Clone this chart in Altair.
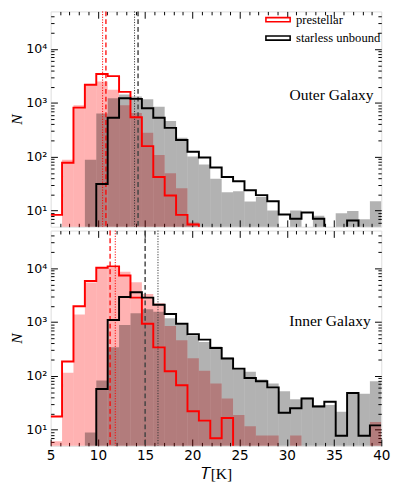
import altair as alt
import pandas as pd

# ---------------- data ----------------
T_MIN, T_MAX, N_BINS = 5.0, 40.0, 29
series_names = ["prestellar", "starless unbound"]
panel_names = ["Outer Galaxy", "Inner Galaxy"]

# Outer Galaxy
outer_pre_fill = [0, 88, 905, 2200, 2500, 1750, 905, 650, 277, 107, 49, 26, 6, 0, 0,
                  0, 0, 0, 0, 0, 0, 0, 0, 0, 0, 0, 0, 0, 0]
outer_unb_fill = [0, 0, 0, 88, 636, 1217, 1430, 1320, 1170, 850, 460, 226, 101, 71.5, 39,
                  21.9, 22.7, 14.7, 18, 10, 0, 10, 0, 8, 0, 8.9, 9.8, 6.9, 14.8]
outer_pre_step = [8.3, 77, 815, 2180, 3440, 3140, 1600, 542, 157, 42, 19, 8.3, 5.5, 0, 0,
                  0, 0, 0, 0, 0, 0, 0, 0, 0, 0, 0, 0, 0, 0]
outer_unb_step = [0, 0, 0, 0, 31, 528, 1217, 1185, 794, 528, 343, 205, 124, 96.6, 63,
                  42, 35, 23.7, 19.3, 14.8, 8.4, 7.0, 9.2, 7.0, 0, 0, 6.5, 0, 0]
outer_vlines = {"pre_dashed": 10.85, "pre_dotted": 10.5, "unb_dashed": 14.25, "unb_dotted": 13.88}

# Inner Galaxy
inner_pre_fill = [6.1, 114, 1385, 5400, 9940, 10200, 8570, 5500, 3320, 2240, 843, 460, 213, 124, 72,
                  37.8, 18.8, 11.6, 7.8, 7.8, 0, 7.8, 0, 0, 0, 0, 0, 0, 13.8]
inner_unb_fill = [0, 0, 0, 8.8, 81.6, 340, 880, 1450, 1720, 1550, 1180, 900, 550, 427, 350,
                  218, 136, 119, 85, 72, 51.8, 36.8, 39.5, 28.8, 28.8, 21.5, 47.6, 46.4, 79]
inner_pre_step = [17.5, 184, 1970, 5800, 10200, 10800, 7300, 2840, 927, 338, 122, 67, 22, 14.7, 6.9,
                  16.4, 0, 0, 0, 0, 0, 0, 0, 0, 0, 0, 0, 0, 0]
inner_unb_step = [0, 0, 0, 0, 56.8, 1090, 2910, 3560, 2840, 2100, 1405, 927, 593, 471, 329,
                  210, 136, 91, 79, 61, 20.6, 25, 37.8, 27, 33, 7.7, 48, 7.7, 12]
inner_vlines = {"pre_dashed": 11.29, "pre_dotted": 11.84, "unb_dashed": 15.0, "unb_dotted": 16.36}

# ---------------- helpers ----------------
FLOOR = 1.0
W = (T_MAX - T_MIN) / N_BINS
edges = [T_MIN + k * W for k in range(N_BINS + 1)]
y_ticks = [m * 10 ** e for e in range(0, 5) for m in range(1, 10) if 5 < m * 10 ** e < 5e4]
x_ticks = list(range(6, 40))

RED = "#ff0000"
BLACK = "#000000"
SERIF = "Liberation Serif"
SANS = "DejaVu Sans"
PW, PH = 341, 222

IS_MAJOR_Y = "(datum.value==10||datum.value==100||datum.value==1000||datum.value==10000)"
yscale = alt.Scale(type="log", domain=[5, 5e4], nice=False)
xscale = alt.Scale(domain=[T_MIN, T_MAX], nice=False, zero=False)


def yaxis(main):
    if main:
        return alt.Axis(
            orient="left", values=y_ticks,
            labelExpr="datum.value==10?'10¹':datum.value==100?'10²':datum.value==1000?'10³':datum.value==10000?'10⁴':''",
            labelFontSize=alt.ExprRef(expr=IS_MAJOR_Y + "?13:0"),
            tickSize=alt.ExprRef(expr=IS_MAJOR_Y + "?-7:-3.5"),
            labelFont=SANS, labelColor="black", labelPadding=11,
            title="N", titleFont=SERIF, titleFontStyle="italic", titleFontWeight="normal",
            titleFontSize=16, titlePadding=1, domain=False, grid=False, tickColor="black",
            labelOverlap=False, labelBound=False, minExtent=0, offset=0,
        )
    return alt.Axis(
        orient="right", values=y_ticks, labels=False, title=None,
        tickSize=alt.ExprRef(expr=IS_MAJOR_Y + "?-7:-3.5"),
        domain=False, grid=False, tickColor="black", minExtent=0, maxExtent=0, offset=0,
    )


def xaxis(main, show_labels):
    if main:
        return alt.Axis(
            orient="bottom",
            values=x_ticks + [5, 40] if show_labels else x_ticks,
            labelExpr="datum.value % 5 == 0 ? datum.value : ''",
            labelFontSize=alt.ExprRef(expr="(datum.value % 5 == 0)?14:0"),
            tickSize=alt.ExprRef(expr="(datum.value % 5 == 0)?-7:-3.5"),
            labels=show_labels, labelFont=SANS, labelColor="black",
            labelPadding=10, labelOverlap=False, labelFlush=False,
            title="𝑇[K]" if show_labels else None, titleFont=SERIF, titleFontWeight="normal",
            titleFontSize=16, titlePadding=4, domain=False, grid=False, tickColor="black",
            minExtent=0, offset=0,
        )
    return alt.Axis(
        orient="top", values=x_ticks, labels=False, title=None,
        tickSize=alt.ExprRef(expr="(datum.value % 5 == 0)?-7:-3.5"),
        domain=False, grid=False, tickColor="black", minExtent=0, maxExtent=0, offset=0,
    )


def build_panel(pre_fill, unb_fill, pre_step, unb_step, vlines, name, is_top, text_x, text_y):
    fill_rows = []
    for s, vals in zip(series_names, [pre_fill, unb_fill]):
        for k, v in enumerate(vals):
            if v > 0:
                fill_rows.append({"lo": edges[k], "hi": edges[k + 1], "n": v, "base": FLOOR, "series": s})
    fill_df = pd.DataFrame(fill_rows)

    step_rows = []
    for s, vals in zip(series_names, [pre_step, unb_step]):
        for k, v in enumerate(vals):
            step_rows.append({"t": edges[k], "n": max(v, FLOOR), "series": s})
        step_rows.append({"t": edges[-1], "n": max(vals[-1], FLOOR), "series": s})
    step_df = pd.DataFrame(step_rows)

    def X(f, axis=None):
        return alt.X(f, type="quantitative", scale=xscale, axis=axis)

    def Y(f, axis=None):
        return alt.Y(f, type="quantitative", scale=yscale, axis=axis)

    fills = []
    for i, (s, col) in enumerate(zip(series_names, [RED, BLACK])):
        enc = dict(x2="hi", y2="base")
        if i == 0:
            enc.update(x=X("lo", xaxis(True, not is_top)), y=Y("n", yaxis(True)))
        else:
            enc.update(x=X("lo"), y=Y("n"))
        fills.append(
            alt.Chart(fill_df).transform_filter(alt.datum.series == s)
            .mark_rect(color=col, opacity=0.3, clip=True)
            .encode(**enc)
        )

    legend = alt.Legend(
        title=None, orient="none", legendX=PW - 113, legendY=2,
        symbolType="M-2.5,-0.42H2.5V0.42H-2.5Z", symbolSize=100, symbolStrokeWidth=1.6,
        symbolFillColor="white", labelFont=SERIF, labelFontSize=13, labelColor="black",
        rowPadding=5, labelOffset=12, padding=0, offset=0,
    ) if is_top else None

    steps = (
        alt.Chart(step_df)
        .mark_line(interpolate="step-after", strokeWidth=2, clip=True)
        .encode(
            x=X("t"), y=Y("n"),
            color=alt.Color("series:N", scale=alt.Scale(domain=series_names, range=[RED, BLACK]), legend=legend),
            order=alt.Order("t:Q"),
        )
    )

    frame_ticks = (
        alt.Chart(step_df)
        .mark_point(opacity=0, clip=True)
        .encode(x=X("t", xaxis(False, False)), y=Y("n", yaxis(False)))
    )

    vl_df = pd.DataFrame([{"t": v, "key": k} for k, v in vlines.items()])
    rules = []
    styles = {
        "pre_dashed": (RED, [5, 3], 1.3),
        "pre_dotted": (RED, [1.2, 1.5], 1.0),
        "unb_dashed": ("#444444", [5, 3], 1.5),
        "unb_dotted": ("#333333", [1.2, 1.5], 1.0),
    }
    for key, (col, dash, sw) in styles.items():
        rules.append(
            alt.Chart(vl_df).transform_filter(alt.datum.key == key)
            .mark_rule(color=col, strokeDash=dash, strokeWidth=sw)
            .encode(x=X("t"))
        )

    label = (
        alt.Chart(pd.DataFrame({"name": [name]}))
        .mark_text(align="right", baseline="middle", font=SERIF, fontSize=16, color="black")
        .encode(text="name:N", x=alt.value(text_x), y=alt.value(text_y))
    )

    return (
        alt.layer(*fills, *rules, steps, frame_ticks, label)
        .resolve_axis(x="independent", y="independent")
        .properties(width=PW, height=PH)
    )


top = build_panel(outer_pre_fill, outer_unb_fill, outer_pre_step, outer_unb_step,
                  outer_vlines, panel_names[0], True, PW - 8, 86)
bottom = build_panel(inner_pre_fill, inner_unb_fill, inner_pre_step, inner_unb_step,
                     inner_vlines, panel_names[1], False, PW - 11, 93)

chart = (
    alt.vconcat(top, bottom, spacing=0)
    .properties(padding={"left": 0, "top": -6, "right": 0, "bottom": 0})
    .configure_view(stroke="black", strokeWidth=1)
    .configure(background="white")
)

chart.save("out.html", embed_options={"renderer": "svg", "actions": False})
